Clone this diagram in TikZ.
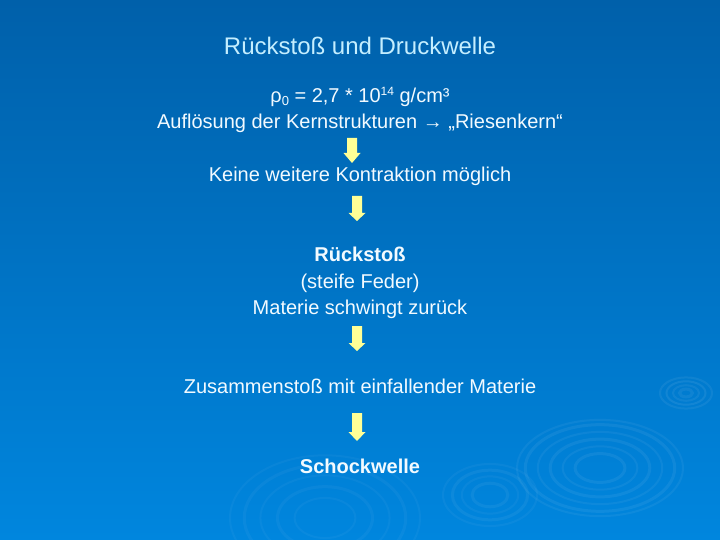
\documentclass[tikz,border=0pt]{standalone}
\usepackage{fontspec}
\setmainfont{Liberation Sans}
\definecolor{bgtop}{RGB}{0,96,170}
\definecolor{bgbot}{RGB}{0,134,222}
\definecolor{titlec}{RGB}{196,238,255}
\definecolor{bodyc}{RGB}{242,250,255}
\definecolor{arrowc}{RGB}{255,255,150}
\newcommand\blockarr[4]{%
  \fill[blockarrow] ({#1-5},#2) -- ({#1+5},#2) -- ({#1+5},#3) -- ({#1+8.5},#3)
    -- (#1,#4) -- ({#1-8.5},#3) -- ({#1-5},#3) -- cycle;}
\newcommand\ringset[5]{% cx cy rx ratio list
  \foreach \r/\w/\o in {#5} {
    \draw[ripple, line width=\w pt, draw opacity=\o] (#1,#2) ellipse [x radius=\r*#3 pt, y radius=\r*#3*#4 pt];
  }}
\newcommand\mysup[1]{\raisebox{7.5pt}{\fontsize{12}{12}\selectfont #1}}
\newcommand\mysub[1]{\raisebox{-3pt}{\fontsize{13}{13}\selectfont #1}}
\begin{document}
\begin{tikzpicture}[x=1pt,y=-1pt,
  body/.style={text=bodyc, font=\fontsize{20}{24}\selectfont, anchor=base, inner sep=0pt},
  bodybold/.style={body, font=\fontsize{20}{24}\selectfont\bfseries},
  ttl/.style={text=titlec, font=\fontsize{24}{28}\selectfont, anchor=base, inner sep=0pt},
  ripple/.style={draw=white},
  blockarrow/.style={fill=arrowc}]
\useasboundingbox (0,0) rectangle (720,540);
\shade[top color=bgtop, bottom color=bgbot] (0,0) rectangle (720,540);
\begin{scope}
\clip (0,0) rectangle (720,540);
\ringset{600}{468}{83}{0.58}{1/2/0.05, 0.9/3/0.06, 0.75/2/0.05, 0.6/3/0.06, 0.45/2/0.05, 0.3/3/0.06}
\ringset{686}{393}{26}{0.6}{1/2/0.06, 0.75/2/0.07, 0.5/2/0.06, 0.25/3/0.06}
\ringset{490}{495}{47}{0.66}{1/2/0.04, 0.8/3/0.05, 0.6/2/0.04, 0.38/3/0.05}
\ringset{325}{518}{95}{0.66}{1/2/0.035, 0.85/3/0.04, 0.68/2/0.035, 0.5/3/0.04, 0.32/2/0.035}
\end{scope}

\node[ttl] (title) at (360,55) {Rückstoß und Druckwelle};
\node[body] (rho) at (360,103) {ρ\mysub{0} = 2,7 * 10\mysup{14} g/cm³};
\node[body] (aufl) at (360,129) {Auflösung der Kernstrukturen → „Riesenkern“};
\node[body] (keine) at (360,182) {Keine weitere Kontraktion möglich};
\node[bodybold] (rueck) at (360,261) {Rückstoß};
\node[body] (feder) at (360,288) {(steife Feder)};
\node[body] (materie) at (360,314) {Materie schwingt zurück};
\node[body] (zus) at (360,393) {Zusammenstoß mit einfallender Materie};
\node[bodybold] (schock) at (360,473) {Schockwelle};

\blockarr{352}{138}{153}{163}
\blockarr{357}{196}{213}{221}
\blockarr{357}{326}{343}{351}
\blockarr{357}{413}{432}{441}
\end{tikzpicture}
\end{document}
